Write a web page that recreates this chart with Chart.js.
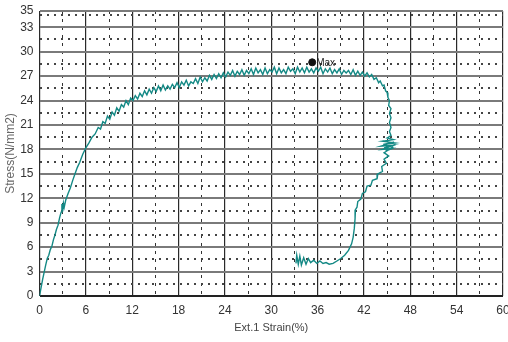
<!DOCTYPE html>
<html><head><meta charset="utf-8">
<script src="https://cdn.jsdelivr.net/npm/chart.js@4.4.1/dist/chart.umd.min.js"></script>
<style>html,body{margin:0;padding:0;background:#fff;}#wrap{width:508px;height:342px;position:relative}</style>
</head><body><div id="wrap"><canvas id="c" width="508" height="342"></canvas></div>
<script>
// Stress-strain test record
const strainPct = [
  0,0.2,0.4,0.6,0.8,1.0,1.2,1.4,1.6,1.8,2.0,2.2,2.4,2.6,2.8,2.9,3.0,3.1,3.2,3.4,3.7,4.0,4.3,4.6,4.9,5.2,5.6,6.0,6.4,6.8,
  7.2,7.6,7.9,8.2,8.5,8.8,9.1,9.4,9.7,10.0,10.3,10.6,10.9,11.2,11.5,11.8,12.1,12.4,12.7,13.0,13.3,13.6,13.9,14.2,14.5,14.8,15.1,15.4,15.7,16.0,16.3,
  16.6,16.9,17.2,17.5,17.8,18.1,18.4,18.7,19.0,19.3,19.6,19.9,20.2,20.5,20.8,21.1,21.4,21.7,22.0,22.3,22.6,22.9,23.2,23.5,23.8,24.1,24.4,24.7,25.0,25.3,
  25.6,25.9,26.2,26.5,26.8,27.1,27.4,27.7,28.0,28.3,28.6,28.9,29.2,29.5,29.8,30.1,30.4,30.7,31.0,31.3,31.6,31.9,32.2,32.5,32.8,33.1,33.4,33.7,34.0,34.3,
  34.6,34.9,35.2,35.5,35.8,36.1,36.4,36.7,37.0,37.3,37.6,37.9,38.2,38.5,38.8,39.1,39.4,39.7,40.0,40.3,40.6,40.9,41.2,41.5,41.8,42.1,42.4,42.7,43.0,
  43.3,43.6,43.9,44.1,44.4,44.6,44.8,45.0,45.1,45.3,45.2,45.5,45.3,45.5,45.3,45.5,45.3,45.5,
  45.0,45.8,44.4,46.0,44.5,45.9,44.2,45.7,44.6,46.1,44.4,45.6,44.8,45.8,44.6,45.2,44.6,44.9,44.3,44.4,43.8,43.7,43.1,42.9,42.4,42.2,41.8,41.6,41.2,41.1,40.9,
  40.85,40.75,40.6,40.4,40.0,39.5,39.0,38.5,38.0,37.5,37.1,36.7,36.3,35.9,35.5,35.1,34.8,34.5,34.2,33.9,33.7,33.5,33.3,33.2
];
const stressNmm2 = [
  0,1.0,2.0,2.9,3.8,4.6,5.0,5.7,6.1,6.9,7.5,8.2,8.7,9.6,10.3,11.3,10.4,11.4,10.9,11.8,12.6,13.3,14.2,15.0,15.8,16.4,17.4,18.2,18.8,19.5,
  19.9,20.7,20.5,21.4,21.2,22.1,21.7,22.6,22.2,23.1,22.7,23.5,23.2,24.0,23.5,24.3,24.0,24.6,24.2,24.9,24.5,25.2,24.7,25.4,24.9,25.6,25.1,25.8,25.2,25.9,25.3,
  25.8,25.4,26.0,25.6,26.2,25.6,26.3,25.9,26.5,25.8,26.3,26.1,26.7,26.1,26.9,26.3,26.8,26.4,27.1,26.6,27.2,26.7,27.3,26.8,27.4,26.9,27.5,27.1,27.7,27.0,
  27.6,27.2,27.8,27.1,27.7,27.3,27.9,27.2,28.0,27.4,27.8,27.2,28.0,27.3,27.8,27.5,28.1,27.3,28.0,27.4,27.8,27.3,28.1,27.6,27.9,27.3,28.1,27.5,28.0,27.4,
  28.1,27.5,27.9,27.4,28.0,27.6,28.1,27.3,27.9,27.5,28.0,27.3,27.8,27.4,27.9,27.2,27.7,27.4,27.7,27.2,27.8,27.1,27.6,27.1,27.5,27.0,27.4,26.9,27.2,
  26.6,26.8,26.2,26.4,25.8,25.9,25.2,25.0,24.4,24.0,23.4,23.0,22.4,21.9,21.3,20.7,20.2,19.7,
  19.4,19.2,19.0,18.8,18.6,18.9,18.4,18.5,18.2,18.6,18.0,18.1,17.8,18.3,17.6,17.2,16.8,16.3,15.9,15.3,15.0,14.4,14.2,13.6,13.5,12.8,12.6,11.9,11.6,10.9,10.6,
  9.5,8.3,7.2,6.4,5.6,5.0,4.6,4.3,4.0,3.9,4.1,4.0,4.3,4.0,4.4,4.1,4.6,3.9,4.7,3.8,4.9,3.9,5.0,4.0
];
const maxStrain = [35.3];
const maxStress = [28.7];
const xTickValues = [0,6,12,18,24,30,36,42,48,54,60];
const yTickValues = [0,3,6,9,12,15,18,21,24,27,30,33,35];
const xMinorValues = [3,9,15,21,27,33,39,45,51,57];
const yMinorValues = [1.5,4.5,7.5,10.5,13.5,16.5,19.5,22.5,25.5,28.5,31.5,34.5];

const curve = strainPct.map((x,i)=>({x:x,y:stressNmm2[i]}));
const maxPts = maxStrain.map((x,i)=>({x:x,y:maxStress[i]}));

const tickFont = {family:"'Liberation Sans Narrow','Liberation Sans',Arial,sans-serif", size:12};

const maxLabel = {
  id:'maxLabel',
  afterDatasetsDraw(chart){
    const meta = chart.getDatasetMeta(1);
    const el = meta.data[0];
    if(!el) return;
    const ctx = chart.ctx;
    ctx.save();
    ctx.fillStyle = '#222';
    ctx.font = "10px 'Liberation Sans Narrow','Liberation Sans',Arial,sans-serif";
    ctx.textBaseline = 'middle';
    ctx.textAlign = 'left';
    ctx.fillText('Max', el.x + 4, el.y + 1);
    ctx.restore();
  }
};

new Chart(document.getElementById('c'), {
  type:'scatter',
  data:{datasets:[
    {data:curve, showLine:true, borderColor:'#148985', borderWidth:1.4, pointRadius:0, tension:0, order:2},
    {data:maxPts, showLine:false, pointRadius:3.5, backgroundColor:'#111', borderColor:'#111', order:1}
  ]},
  options:{
    responsive:false, animation:false,
    layout:{padding:{top:11,right:3,bottom:0,left:0}},
    plugins:{legend:{display:false}, tooltip:{enabled:false}},
    scales:{
      x:{
        type:'linear', position:'bottom', min:0, max:60,
        afterBuildTicks(s){ s.ticks = xTickValues.map(v=>({value:v})); },
        afterFit(s){ s.height = 46; s.paddingLeft = 0; s.paddingRight = 0; },
        ticks:{font:tickFont, color:'#333', padding:7, maxRotation:0, autoSkip:false},
        grid:{color:'#2a2a2a', lineWidth:1.2, drawTicks:false},
        border:{display:false},
        title:{display:true, text:'Ext.1 Strain(%)', color:'#444',
          font:{family:"'Liberation Sans Narrow','Liberation Sans',Arial,sans-serif", size:11},
          padding:{top:0,bottom:7}}
      },
      x2:{
        type:'linear', position:'bottom', min:0, max:60,
        afterBuildTicks(s){ s.ticks = xMinorValues.map(v=>({value:v})); },
        afterFit(s){ s.height = 0; s.paddingLeft = 0; s.paddingRight = 0; },
        ticks:{display:false},
        grid:{color:'#333', lineWidth:1, drawTicks:false},
        border:{display:false, dash:[3,5]}
      },
      y:{
        type:'linear', position:'left', min:0, max:35,
        afterBuildTicks(s){ s.ticks = yTickValues.map(v=>({value:v})); },
        afterFit(s){ s.width = 39.5; s.paddingTop = 0; s.paddingBottom = 0; },
        ticks:{font:tickFont, color:'#333', padding:6, autoSkip:false},
        grid:{color:(c)=> (c.tick && c.tick.value===0) ? '#222' : '#7a7a7a', lineWidth:2, drawTicks:false},
        border:{display:false},
        title:{display:true, text:'Stress(N/mm2)', color:'#666',
          font:{family:"'Liberation Sans',Arial,sans-serif", size:12},
          padding:{top:3,bottom:0}}
      },
      y2:{
        type:'linear', position:'left', min:0, max:35,
        afterBuildTicks(s){ s.ticks = yMinorValues.map(v=>({value:v})); },
        afterFit(s){ s.width = 0; s.paddingTop = 0; s.paddingBottom = 0; },
        ticks:{display:false},
        grid:{color:'#444', lineWidth:2, drawTicks:false},
        border:{display:false, dash:[2,5]}
      }
    }
  },
  plugins:[maxLabel]
});
</script>
</body></html>
